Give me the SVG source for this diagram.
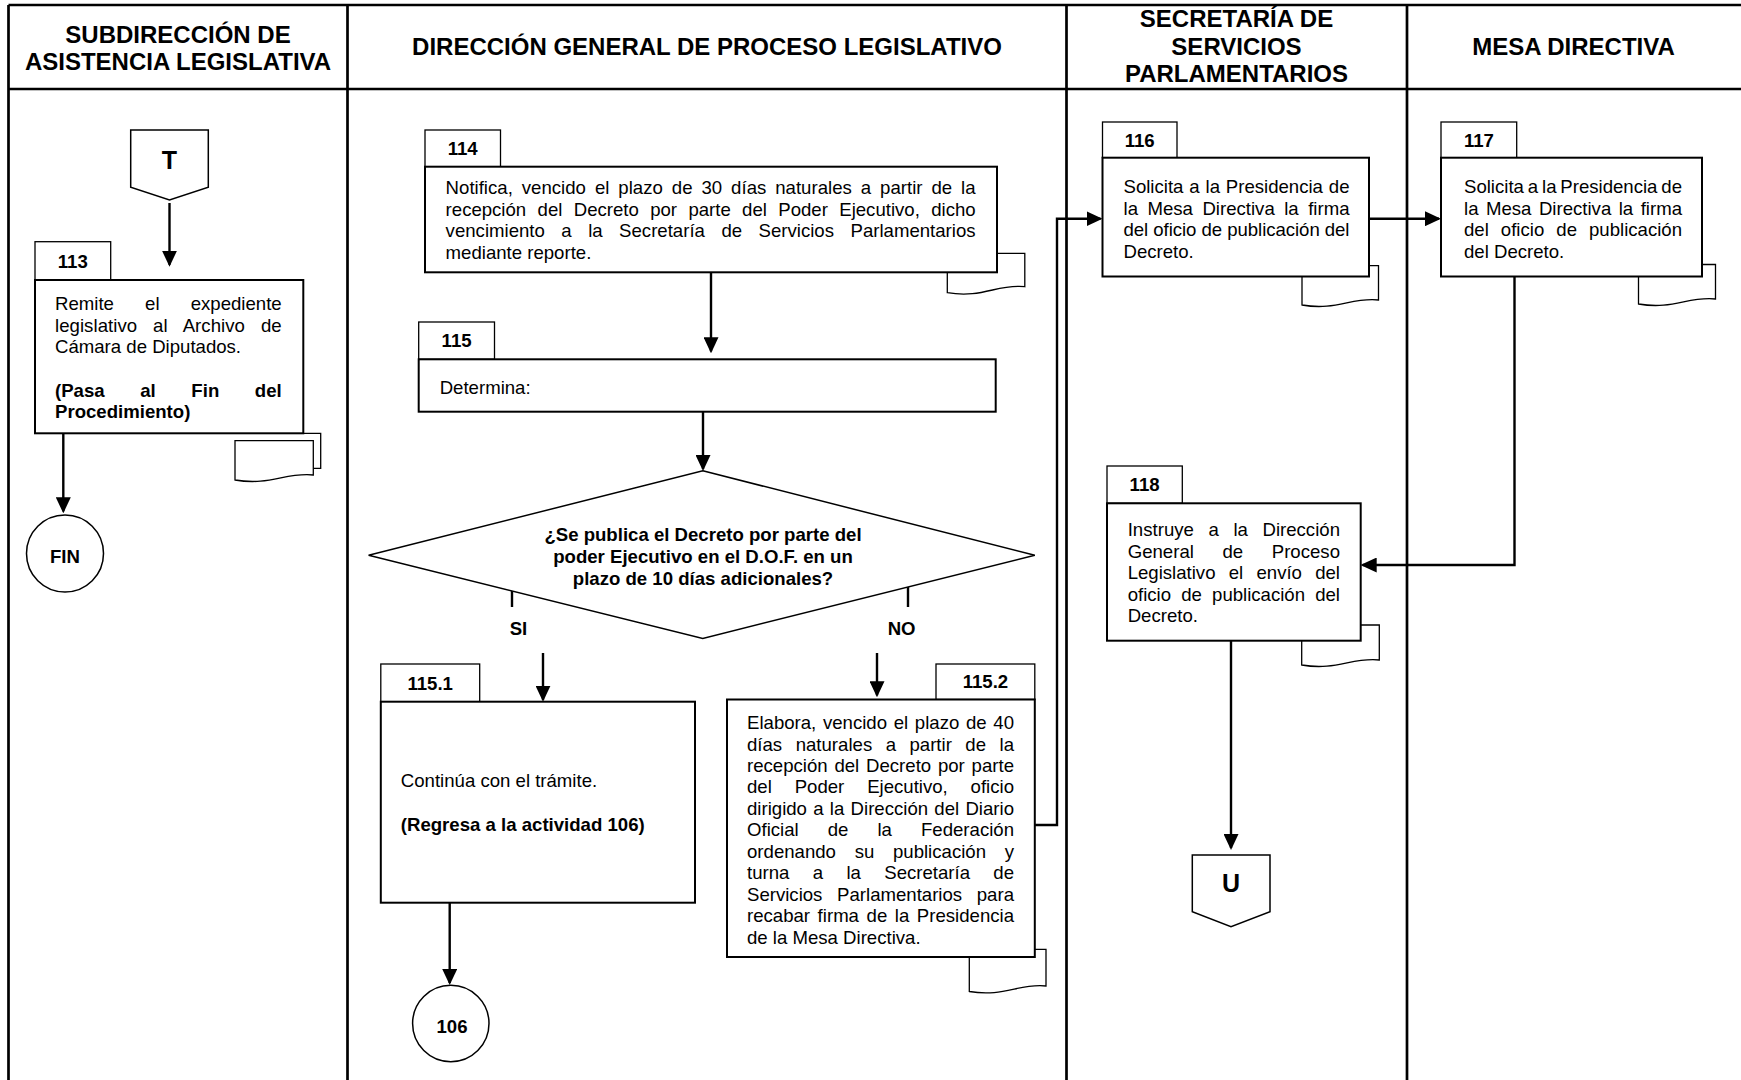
<svg xmlns="http://www.w3.org/2000/svg" width="1741" height="1080" viewBox="0 0 1741 1080">
  <style>
    text { font-family: "Liberation Sans", Arial, sans-serif; fill: #000; }
    .hdr { font-size: 24px; font-weight: bold; text-anchor: middle; }
    .t { font-size: 18.6px; }
    .b { font-weight: bold; }
    .c { text-anchor: middle; }
    .sym { font-size: 25px; font-weight: bold; text-anchor: middle; }
    .frame { stroke: #000; stroke-width: 2.7; fill: none; }
    .box { fill: #fff; stroke: #000; stroke-width: 2; }
    .tab { fill: #fff; stroke: #000; stroke-width: 1.3; }
    .doc { fill: #fff; stroke: #000; stroke-width: 1.3; }
    .term { fill: #fff; stroke: #000; stroke-width: 1.5; }
    .conn { fill: none; stroke: #000; stroke-width: 2.4; }
    .arr { marker-end: url(#ah); }
  </style>
  <defs>
    <marker id="ah" viewBox="0 0 16 15" refX="14" refY="7.5" markerWidth="16" markerHeight="15" markerUnits="userSpaceOnUse" orient="auto">
      <path d="M0,0 L16,7.5 L0,15 Z" fill="#000"/>
    </marker>
  </defs>

  <rect width="1741" height="1080" fill="#fff"/>

  <!-- swimlane frame -->
  <g id="lanes">
    <path class="frame" d="M8.5,5 H1741 M8.5,89 H1741 M8.5,5 V1080 M347.5,5 V1080 M1066.5,5 V1080 M1407,5 V1080"/>
    <text class="hdr" x="178" y="43.4">SUBDIRECCIÓN DE</text>
    <text class="hdr" x="178" y="69.9">ASISTENCIA LEGISLATIVA</text>
    <text class="hdr" x="707" y="55.4">DIRECCIÓN GENERAL DE PROCESO LEGISLATIVO</text>
    <text class="hdr" x="1236.5" y="27.4">SECRETARÍA DE</text>
    <text class="hdr" x="1236.5" y="55.4">SERVICIOS</text>
    <text class="hdr" x="1236.5" y="82.4">PARLAMENTARIOS</text>
    <text class="hdr" x="1573.5" y="55.4">MESA DIRECTIVA</text>
  </g>

  <!-- connectors -->
  <g id="connectors">
    <path class="conn arr" d="M169.5,203 V264.7"/>
    <path class="conn arr" d="M63.3,433.3 V511.3"/>
    <path class="conn arr" d="M711,272.3 V351.3"/>
    <path class="conn arr" d="M703,411.7 V469"/>
    <path class="conn" d="M512,591 V607"/>
    <path class="conn" d="M908,587 V607"/>
    <path class="conn arr" d="M543,653 V699.7"/>
    <path class="conn arr" d="M877,653 V695.3"/>
    <path class="conn arr" d="M449.7,902.7 V983"/>
    <path class="conn arr" d="M1034.8,825 H1057 V218.7 H1100.5"/>
    <path class="conn arr" d="M1369,218.7 H1439"/>
    <path class="conn arr" d="M1514.5,276.5 V565 H1362.7"/>
    <path class="conn arr" d="M1231,640.7 V848"/>
  </g>

  <!-- off-page connector T -->
  <g id="offpage-T">
    <path class="term" stroke-width="1.2" d="M130.7,130 H208.3 V187.3 L169.5,200 L130.7,187.3 Z"/>
    <text class="sym" x="169.5" y="168.5">T</text>
  </g>

  <!-- 113 -->
  <g id="act-113">
    <path class="doc" d="M243.3,433.3 H320.7 V468.3 H313.3"/>
    <path class="doc" d="M235,440.7 H313.3 V475 C285.9,472 270.2,486 235,480 Z"/>
    <rect class="tab" x="35" y="241.7" width="75.7" height="38.3"/>
    <text class="t b c" x="72.8" y="267.5">113</text>
    <rect class="box" x="35" y="280" width="268.3" height="153.3"/>
    <text class="t" x="55" y="310" word-spacing="26" textLength="226.7" lengthAdjust="spacing">Remite el expediente</text>
    <text class="t" x="55" y="331.7" word-spacing="10.8" textLength="226.7" lengthAdjust="spacing">legislativo al Archivo de</text>
    <text class="t" x="55" y="353.3">Cámara de Diputados.</text>
    <text class="t b" x="55" y="396.7" word-spacing="30.4" textLength="226.7" lengthAdjust="spacing">(Pasa al Fin del</text>
    <text class="t b" x="55" y="418.3">Procedimiento)</text>
  </g>

  <!-- FIN -->
  <g id="end-FIN">
    <circle class="term" cx="65" cy="553.5" r="38.5"/>
    <text class="t b c" x="65" y="563">FIN</text>
  </g>

  <!-- 114 -->
  <g id="act-114">
    <path class="doc" d="M947.3,253.3 H1024.8 V286.7 C997.7,283.7 982.2,298.7 947.3,292.7 Z"/>
    <rect class="tab" x="425" y="130" width="75.5" height="36.7"/>
    <text class="t b c" x="462.7" y="155">114</text>
    <rect class="box" x="425" y="166.7" width="572" height="105.6"/>
    <text class="t" x="445.6" y="194" word-spacing="3.8" textLength="530" lengthAdjust="spacing">Notifica, vencido el plazo de 30 días naturales a partir de la</text>
    <text class="t" x="445.6" y="215.5" word-spacing="6.2" textLength="530" lengthAdjust="spacing">recepción del Decreto por parte del Poder Ejecutivo, dicho</text>
    <text class="t" x="445.6" y="237" word-spacing="11.3" textLength="530" lengthAdjust="spacing">vencimiento a la Secretaría de Servicios Parlamentarios</text>
    <text class="t" x="445.6" y="258.5">mediante reporte.</text>
  </g>

  <!-- 115 -->
  <g id="act-115">
    <rect class="tab" x="418.7" y="322" width="75.8" height="37.3"/>
    <text class="t b c" x="456.6" y="347">115</text>
    <rect class="box" x="418.7" y="359.3" width="577" height="52.4"/>
    <text class="t" x="439.7" y="393.5">Determina:</text>
  </g>

  <!-- decision -->
  <g id="decision-115">
    <path class="term" d="M702.8,470.8 L1034.8,555.2 L702.8,638.4 L368.6,555.2 Z"/>
    <text class="t b c" x="703" y="540.5">¿Se publica el Decreto por parte del</text>
    <text class="t b c" x="703" y="562.5">poder Ejecutivo en el D.O.F. en un</text>
    <text class="t b c" x="703" y="585">plazo de 10 días adicionales?</text>
    <text class="t b c" x="518.5" y="635">SI</text>
    <text class="t b c" x="901.6" y="635">NO</text>
  </g>

  <!-- 115.1 -->
  <g id="act-115-1">
    <rect class="tab" x="380.8" y="664" width="98.9" height="37.7"/>
    <text class="t b c" x="430.2" y="689.5">115.1</text>
    <rect class="box" x="380.8" y="701.7" width="314.2" height="201"/>
    <text class="t" x="400.8" y="787">Continúa con el trámite.</text>
    <text class="t b" x="400.8" y="831">(Regresa a la actividad 106)</text>
  </g>

  <!-- 106 -->
  <g id="conn-106">
    <circle class="term" cx="450.8" cy="1023.5" r="38.2"/>
    <text class="t b c" x="452" y="1032.5">106</text>
  </g>

  <!-- 115.2 -->
  <g id="act-115-2">
    <path class="doc" d="M969.3,949.3 H1046 V986 C1019.2,983 1003.8,997.5 969.3,991.5 Z"/>
    <rect class="tab" x="936" y="664" width="98.8" height="35.5"/>
    <text class="t b c" x="985.4" y="688">115.2</text>
    <rect class="box" x="727" y="699.5" width="307.8" height="257.5"/>
    <text class="t" x="747" y="729" word-spacing="1.5" textLength="267" lengthAdjust="spacing">Elabora, vencido el plazo de 40</text>
    <text class="t" x="747" y="750.5" word-spacing="8.3" textLength="267" lengthAdjust="spacing">días naturales a partir de la</text>
    <text class="t" x="747" y="771.9" word-spacing="1.6" textLength="267" lengthAdjust="spacing">recepción del Decreto por parte</text>
    <text class="t" x="747" y="793.4" word-spacing="17.7" textLength="267" lengthAdjust="spacing">del Poder Ejecutivo, oficio</text>
    <text class="t" x="747" y="814.8" word-spacing="1.1" textLength="267" lengthAdjust="spacing">dirigido a la Dirección del Diario</text>
    <text class="t" x="747" y="836.3" word-spacing="23.9" textLength="267" lengthAdjust="spacing">Oficial de la Federación</text>
    <text class="t" x="747" y="857.7" word-spacing="13.5" textLength="267" lengthAdjust="spacing">ordenando su publicación y</text>
    <text class="t" x="747" y="879.2" word-spacing="18.2" textLength="267" lengthAdjust="spacing">turna a la Secretaría de</text>
    <text class="t" x="747" y="900.6" word-spacing="9.5" textLength="267" lengthAdjust="spacing">Servicios Parlamentarios para</text>
    <text class="t" x="747" y="922.1" word-spacing="2.4" textLength="267" lengthAdjust="spacing">recabar firma de la Presidencia</text>
    <text class="t" x="747" y="943.5">de la Mesa Directiva.</text>
  </g>

  <!-- 116 -->
  <g id="act-116">
    <path class="doc" d="M1302,265.7 H1378.5 V300 C1351.7,297 1336.4,311 1302,305 Z"/>
    <rect class="tab" x="1102.5" y="122" width="74.5" height="35.7"/>
    <text class="t b c" x="1139.7" y="146.5">116</text>
    <rect class="box" x="1102.5" y="157.7" width="266.5" height="118.8"/>
    <text class="t" x="1123.5" y="193" word-spacing="0.7" textLength="226" lengthAdjust="spacing">Solicita a la Presidencia de</text>
    <text class="t" x="1123.5" y="214.5" word-spacing="4.3" textLength="226" lengthAdjust="spacing">la Mesa Directiva la firma</text>
    <text class="t" x="1123.5" y="236" textLength="226" lengthAdjust="spacing">del oficio de publicación del</text>
    <text class="t" x="1123.5" y="257.5">Decreto.</text>
  </g>

  <!-- 117 -->
  <g id="act-117">
    <path class="doc" d="M1638.5,264.5 H1715.5 V299 C1688.5,296 1673.2,310 1638.5,304 Z"/>
    <rect class="tab" x="1441" y="122" width="75.7" height="35.7"/>
    <text class="t b c" x="1478.9" y="146.5">117</text>
    <rect class="box" x="1441" y="157.7" width="261" height="118.8"/>
    <text class="t" x="1464" y="193" word-spacing="-1.3" textLength="218" lengthAdjust="spacing">Solicita a la Presidencia de</text>
    <text class="t" x="1464" y="214.5" word-spacing="2.3" textLength="218" lengthAdjust="spacing">la Mesa Directiva la firma</text>
    <text class="t" x="1464" y="236" word-spacing="6.9" textLength="218" lengthAdjust="spacing">del oficio de publicación</text>
    <text class="t" x="1464" y="257.5">del Decreto.</text>
  </g>

  <!-- 118 -->
  <g id="act-118">
    <path class="doc" d="M1301.7,625 H1379.3 V660 C1352.1,657 1336.6,671 1301.7,665 Z"/>
    <rect class="tab" x="1107" y="466" width="75.3" height="37.3"/>
    <text class="t b c" x="1144.6" y="491">118</text>
    <rect class="box" x="1107" y="503.3" width="253.7" height="137.4"/>
    <text class="t" x="1127.7" y="536" word-spacing="9.4" textLength="212.3" lengthAdjust="spacing">Instruye a la Dirección</text>
    <text class="t" x="1127.7" y="557.5" word-spacing="23.4" textLength="212.3" lengthAdjust="spacing">General de Proceso</text>
    <text class="t" x="1127.7" y="579" word-spacing="8.1" textLength="212.3" lengthAdjust="spacing">Legislativo el envío del</text>
    <text class="t" x="1127.7" y="600.5" word-spacing="5" textLength="212.3" lengthAdjust="spacing">oficio de publicación del</text>
    <text class="t" x="1127.7" y="622">Decreto.</text>
  </g>

  <!-- off-page connector U -->
  <g id="offpage-U">
    <path class="term" stroke-width="1.2" d="M1192.3,855 H1270 V911.7 L1231,926.7 L1192.3,911.7 Z"/>
    <text class="sym" x="1231" y="892">U</text>
  </g>
</svg>
